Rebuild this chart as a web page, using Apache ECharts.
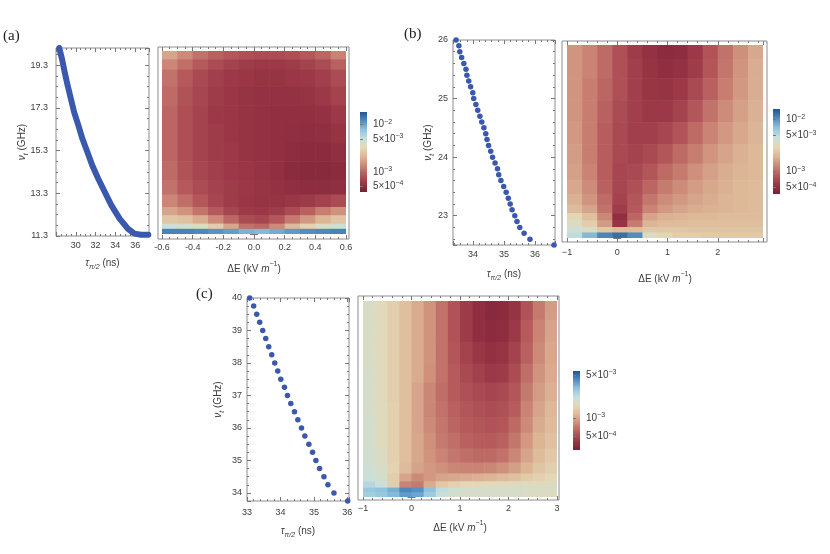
<!DOCTYPE html>
<html>
<head>
<meta charset="utf-8">
<style>
  html, body { margin: 0; padding: 0; background: #fff; }
  #chart { width: 830px; height: 554px; }
</style>
</head>
<body>
<div id="chart"></div>
<script src="https://cdn.jsdelivr.net/npm/echarts@6/dist/echarts.min.js"></script>
<script>
// ---------- scatter data: tau_pi/2 (ns) vs nu_t (GHz) ----------
var tauA = [28.33, 28.6, 28.87, 29.17, 29.5, 29.83, 30.27, 30.67, 31.17, 31.67, 32.27, 32.93, 33.6, 34.43, 35.27, 35.93, 36.6, 37.33];
var nuA  = [20.1, 19.6, 18.98, 18.36, 17.73, 17.1, 16.47, 15.85, 15.23, 14.6, 13.98, 13.36, 12.73, 12.11, 11.64, 11.41, 11.36, 11.36];

var tauB = [33.45, 33.54, 33.57, 33.63, 33.70, 33.77, 33.80, 33.86, 33.92, 33.99, 34.02, 34.09, 34.15, 34.22, 34.28, 34.35, 34.41, 34.45,
            34.50, 34.57, 34.63, 34.71, 34.79, 34.83, 34.90, 34.99, 35.07, 35.14, 35.20, 35.26, 35.35, 35.42, 35.51, 35.65, 35.84, 36.62];
var nuB  = [26.0, 25.9, 25.8, 25.7, 25.6, 25.5, 25.4, 25.3, 25.2, 25.1, 25.0, 24.9, 24.8, 24.7, 24.6, 24.5, 24.4, 24.3,
            24.2, 24.1, 24.0, 23.9, 23.8, 23.7, 23.6, 23.5, 23.4, 23.3, 23.2, 23.1, 23.0, 22.9, 22.8, 22.7, 22.6, 22.5];

var tauC = [33.08, 33.20, 33.29, 33.38, 33.47, 33.56, 33.65, 33.74, 33.83, 33.92, 34.01, 34.12, 34.21,
            34.31, 34.42, 34.52, 34.63, 34.73, 34.85, 34.96, 35.06, 35.17, 35.30, 35.42, 35.60, 36.01];
var nuC  = [40.0, 39.75, 39.5, 39.25, 39.0, 38.75, 38.5, 38.25, 38.0, 37.75, 37.5, 37.25, 37.0,
            36.75, 36.5, 36.25, 36.0, 35.75, 35.5, 35.25, 35.0, 34.75, 34.5, 34.25, 34.0, 33.75];

// ---------- heatmap data: cell edges (Delta E in kV/m, nu_t in GHz), values in units of 1e-4 ----------
// rows are listed from top (highest nu_t) to bottom
var xEdgesA = [-0.6, -0.5, -0.4, -0.3, -0.2, -0.1, 0, 0.1, 0.2, 0.3, 0.4, 0.5, 0.6];
var yEdgesA = [11.3, 11.55, 11.8, 12.2, 12.6, 13.2, 13.9, 14.8, 15.7, 16.6, 17.5, 18.4, 19.2, 19.7, 20.1];
var heatA = [
  [17.8, 14, 11.1, 9.5, 8.5, 7.8, 7.5, 7.5, 7.8, 8.5, 9.9, 13],
  [13.5, 10.7, 8.8, 7.5, 6.7, 6.2, 5.9, 5.9, 6.2, 6.7, 7.5, 9.5],
  [11.1, 8.8, 7.2, 6.4, 5.9, 5.7, 5.5, 5.5, 5.7, 5.9, 6.4, 7.5],
  [10.3, 8.1, 7.0, 6.2, 5.7, 5.5, 5.3, 5.3, 5.3, 5.5, 5.9, 6.7],
  [9.9, 7.8, 6.7, 5.9, 5.7, 5.5, 5.3, 5.1, 5.1, 5.1, 5.3, 5.9],
  [9.9, 7.8, 6.7, 6.2, 5.7, 5.5, 5.3, 5.1, 5.0, 4.9, 5.0, 5.5],
  [9.9, 7.8, 6.7, 6.2, 5.9, 5.5, 5.3, 5.1, 4.8, 4.7, 4.7, 5.0],
  [10.3, 8.1, 7.0, 6.4, 5.9, 5.7, 5.4, 5.1, 4.7, 4.5, 4.5, 4.7],
  [11.1, 8.8, 7.5, 6.7, 6.2, 5.8, 5.6, 5.3, 5.0, 4.8, 4.8, 5.0],
  [13.5, 10.7, 8.5, 7.0, 6.2, 5.7, 5.5, 5.5, 5.7, 6.0, 6.6, 7.5],
  [17.8, 15, 11.5, 8.8, 7.0, 6.0, 5.8, 6.2, 7.5, 9.5, 12.5, 15],
  [26, 24, 19, 14, 10, 7.5, 7.0, 8.5, 12, 16, 21, 25],
  [47, 42, 36, 28, 18, 11, 10, 14, 22, 30, 38, 45],
  [130, 130, 125, 115, 105, 90, 85, 95, 110, 120, 125, 130]
];

var xEdgesB = [-1, -0.7, -0.4, -0.1, 0.2, 0.5, 0.8, 1.1, 1.4, 1.7, 2.0, 2.3, 2.6, 2.9];
var yEdgesB = [22.5, 22.6, 22.7, 22.82, 22.95, 23.1, 23.3, 23.55, 23.85, 24.2, 24.6, 25.0, 25.4, 25.75, 26.0];
var heatB = [
  [14.4, 12.4, 9.9, 7.6, 6.05, 5.2, 4.66, 4.83, 5.8, 7.9, 10.6, 13.8, 17.3],
  [14.4, 12.4, 9.9, 7.6, 6.3, 5.4, 5.0, 5.2, 6.05, 8.2, 11.0, 14.4, 18.0],
  [14.4, 11.9, 9.5, 7.6, 6.3, 5.6, 5.4, 5.8, 7.0, 9.1, 11.9, 14.9, 18.0],
  [14.4, 11.9, 9.1, 7.3, 6.3, 5.8, 5.8, 6.5, 8.2, 10.6, 13.3, 16.1, 18.7],
  [14.9, 11.9, 8.8, 7.0, 6.3, 6.3, 6.8, 7.9, 9.9, 12.4, 14.9, 17.3, 19.4],
  [15.5, 11.9, 8.8, 7.0, 6.5, 7.0, 8.2, 9.9, 11.9, 14.4, 16.7, 18.7, 20.1],
  [16.1, 12.4, 8.8, 6.8, 7.0, 8.2, 9.9, 11.5, 13.8, 16.1, 18.0, 19.4, 20.1],
  [17.3, 13.3, 9.1, 6.8, 7.6, 9.5, 11.5, 13.3, 15.5, 17.3, 18.7, 20.1, 20.9],
  [18.7, 14.4, 9.9, 6.5, 8.2, 11.0, 13.3, 14.9, 16.7, 18.0, 19.4, 20.1, 20.9],
  [20.9, 16.7, 10.6, 6.05, 8.5, 12.4, 14.9, 16.7, 18.0, 18.7, 19.4, 20.1, 20.9],
  [29, 21.7, 12.9, 5.0, 9.5, 16.7, 18.7, 19.4, 20.1, 20.1, 20.9, 20.9, 20.9],
  [35, 26, 15.5, 5.4, 11.5, 19.4, 20.9, 20.9, 21.7, 21.7, 21.7, 21.7, 21.7],
  [40, 35, 24, 21, 21, 24, 24, 24, 23.4, 23.4, 23.4, 23.4, 23.4],
  [48, 75, 110, 130, 105, 35, 29, 26, 26, 25, 24.3, 24.3, 24.3]
];

var xEdgesC = [-1, -0.75, -0.5, -0.25, 0, 0.25, 0.5, 0.75, 1, 1.25, 1.5, 1.75, 2, 2.25, 2.5, 2.75, 3];
var yEdgesC = [33.75, 33.9, 34.05, 34.25, 34.5, 34.85, 35.3, 35.8, 36.3, 36.8, 37.4, 38.0, 38.7, 39.4, 40.0];
var heatC = [
  [17.7, 16.2, 14.0, 12.1, 10.4, 8.7, 6.9, 5.4, 4.4, 3.8, 3.5, 3.6, 4.05, 5.4, 7.3, 9.3],
  [17.7, 16.2, 14.0, 12.1, 10.4, 8.7, 6.9, 5.4, 4.4, 3.8, 3.6, 3.7, 4.3, 5.8, 7.8, 9.8],
  [17.7, 16.2, 14.0, 12.1, 10.4, 8.7, 6.9, 5.6, 4.7, 4.2, 3.9, 4.05, 4.7, 6.1, 8.2, 10.1],
  [18.2, 16.2, 14.0, 12.1, 10.4, 8.5, 6.9, 5.8, 5.0, 4.6, 4.3, 4.4, 5.1, 6.7, 8.7, 10.4],
  [18.2, 16.2, 14.0, 12.1, 9.8, 8.0, 6.7, 5.8, 5.3, 5.0, 4.8, 5.0, 5.6, 7.3, 9.3, 10.7],
  [18.2, 16.7, 14.4, 12.1, 9.8, 8.0, 6.9, 6.1, 5.6, 5.3, 5.1, 5.3, 5.9, 7.8, 9.8, 11.4],
  [18.8, 16.7, 14.4, 12.1, 9.8, 8.2, 7.1, 6.3, 5.8, 5.6, 5.4, 5.6, 6.5, 8.2, 10.4, 11.7],
  [18.8, 16.7, 14.4, 12.1, 10.1, 8.5, 7.3, 6.7, 6.1, 5.9, 5.8, 6.1, 7.1, 9.0, 11.0, 12.4],
  [19.3, 17.2, 14.4, 12.1, 10.1, 8.7, 7.8, 7.1, 6.7, 6.5, 6.5, 6.9, 8.0, 9.8, 11.7, 13.2],
  [19.9, 17.7, 14.8, 11.7, 9.8, 9.0, 8.5, 8.0, 7.8, 7.8, 8.0, 8.5, 9.5, 11.0, 12.8, 14.0],
  [21.1, 18.8, 14.0, 9.8, 8.2, 9.0, 9.8, 10.1, 10.4, 10.7, 11.0, 11.7, 12.4, 13.6, 14.4, 15.3],
  [23.8, 21.1, 14.0, 7.8, 7.3, 10.4, 13.2, 14.4, 15.3, 15.7, 16.2, 16.2, 16.7, 16.7, 16.7, 16.7],
  [28.4, 30.1, 33.9, 42.9, 40.4, 30.1, 22.4, 19.9, 18.8, 18.8, 18.8, 18.8, 18.8, 18.2, 17.7, 17.7],
  [26.7, 28.4, 31.9, 38.1, 35.9, 27.5, 21.1, 18.8, 17.7, 17.7, 17.7, 17.7, 17.7, 17.2, 16.7, 16.7]
];

// colour bar ranges (log10) and tick values
var cbRangeA = [-3.43, -1.73];
var cbRangeB = [-3.43, -1.80];
var cbRangeC = [-3.52, -2.24];
var cbTicksA = [1e-2, 5e-3, 1e-3, 5e-4];
var cbTicksB = [1e-2, 5e-3, 1e-3, 5e-4];
var cbTicksC = [5e-3, 1e-3, 5e-4];

// ---------- styling ----------
var FONT = '"Liberation Sans", Arial, sans-serif';
var TXT = '#3c3c3c';
var FRAME = '#8c8c8c';
var TICK = '#777';
var DOT = '#3a58ad';
var COLORS = ['#7b1f35', '#9a3646', '#b65a5c', '#cc8877', '#ddb797', '#e4d8b6', '#c6e0dc', '#90c4de', '#4f8dc3', '#22558f'];

var rich = {
  i:  {fontFamily: FONT, fontStyle: 'italic', fontSize: 10, color: TXT, lineHeight: 16},
  sb: {fontFamily: FONT, fontStyle: 'italic', fontSize: 7, color: TXT, lineHeight: 16, verticalAlign: 'bottom'},
  sp: {fontFamily: FONT, fontSize: 7, color: TXT, lineHeight: 16, verticalAlign: 'top'}
};
var cbRich = {
  sp: {fontFamily: FONT, fontSize: 7, color: TXT, lineHeight: 12, verticalAlign: 'top'}
};
var nuName = '{i|ν}{sb|t} (GHz)';
var tauName = '{i|τ}{sb|π/2} (ns)';
var eName = 'ΔE (kV {i|m}{sp|−1})';

function fix1(v) { return (Math.abs(v) < 1e-9 ? 0 : v).toFixed(1); }
function minus(v) { return String(Math.round(v * 100) / 100).replace('-', '−'); }
function cbLabel(v) {
  var e = Math.floor(v + 1e-6);
  var m = Math.round(Math.pow(10, v - e));
  return (m === 1 ? '' : m + '×') + '10{sp|−' + (-e) + '}';
}

var option = {
  animation: false,
  backgroundColor: '#fff',
  title: [], grid: [], xAxis: [], yAxis: [], series: [], visualMap: []
};

function addGrid(b, extra) {
  var g = {left: b[0], top: b[1], width: b[2], height: b[3], containLabel: false, outerBoundsMode: 'none', show: false};
  for (var k in extra) g[k] = extra[k];
  option.grid.push(g);
  return option.grid.length - 1;
}

function addAxis(list, o) {
  var a = {
    type: 'value', gridIndex: o.grid, position: o.pos, min: o.min, max: o.max, offset: o.offset || 0,
    axisLine: {show: false},
    axisTick: {show: true, inside: true, length: 4, lineStyle: {color: TICK}},
    minorTick: {show: true, splitNumber: o.minor || 5, length: 2, lineStyle: {color: TICK}},
    splitLine: {show: false},
    axisPointer: {show: false},
    axisLabel: {
      show: !!o.label, margin: o.margin || 5, fontFamily: FONT, fontSize: 9, color: TXT,
      showMinLabel: !!o.showMin, showMaxLabel: !!o.showMax
    }
  };
  if (o.fmt) a.axisLabel.formatter = o.fmt;
  if (o.interval != null) a.interval = o.interval;
  if (o.split != null) a.splitNumber = o.split;
  if (o.name) {
    a.name = o.name;
    a.nameLocation = 'middle';
    a.nameGap = o.gap;
    a.nameMoveOverlap = false;
    a.nameRotate = o.rot || 0;
    a.nameTextStyle = {fontFamily: FONT, fontSize: 10, color: TXT, lineHeight: 16, rich: rich};
  }
  list.push(a);
  return list.length - 1;
}

function merge(a, b) { var r = {}, k; for (k in a) r[k] = a[k]; for (k in b) r[k] = b[k]; return r; }

function buildCells(xe, ye, rows) {
  var out = [], nr = rows.length;
  rows.forEach(function (row, r) {
    var j = nr - 1 - r;
    row.forEach(function (v, c) {
      out.push([xe[c], xe[c + 1], ye[j], ye[j + 1], Math.log10(v * 1e-4)]);
    });
  });
  return out;
}

function renderCell(params, api) {
  var p0 = api.coord([api.value(0), api.value(2)]);
  var p1 = api.coord([api.value(1), api.value(3)]);
  return {
    type: 'rect',
    shape: {x: p0[0], y: p1[1], width: p1[0] - p0[0] + 0.6, height: p0[1] - p1[1] + 0.6},
    style: {fill: api.visual('color')}
  };
}

var panels = [
  {
    title: '(a)', tPos: [3, 29], tau: tauA, nu: nuA, line: true,
    sGrid: [56, 48, 93, 188], hFrame: [158, 47, 191, 192], hData: [162, 51, 184, 183], bar: [360, 112, 7, 80],
    sx: {min: 28, max: 37.4, interval: 2, minor: 4, margin: 5, gap: 19},
    sy: {min: 11.3, max: 20.1, interval: 2, minor: 4, showMin: true, margin: 8, gap: 26, fmt: fix1},
    hx: {min: -0.6, max: 0.6, interval: 0.2, minor: 4, showMin: true, showMax: true, margin: 4, gap: 22, fmt: fix1},
    xe: xEdgesA, ye: yEdgesA, heat: heatA, cb: cbRangeA, cbTicks: cbTicksA
  },
  {
    title: '(b)', tPos: [404, 27], tau: tauB, nu: nuB, line: false,
    sGrid: [453, 40, 102, 205], hFrame: [562, 41, 205, 201], hData: [567, 45, 196, 193], bar: [773, 109, 7, 85],
    sx: {min: 33.35, max: 36.65, split: 3, minor: 5, margin: 5, gap: 21},
    sy: {min: 22.5, max: 26, split: 4, minor: 5, showMax: true, margin: 5, gap: 17},
    hx: {min: -1, max: 2.9, interval: 1, minor: 5, showMin: true, margin: 6, gap: 29, fmt: minus},
    xe: xEdgesB, ye: yEdgesB, heat: heatB, cb: cbRangeB, cbTicks: cbTicksB
  },
  {
    title: '(c)', tPos: [196, 287], tau: tauC, nu: nuC, line: false,
    sGrid: [247, 298, 102, 203], hFrame: [358, 296, 201, 204], hData: [363, 301, 194, 196], bar: [573, 371, 7, 79],
    sx: {min: 33, max: 36.05, interval: 1, minor: 5, showMin: true, margin: 7, gap: 22},
    sy: {min: 33.75, max: 40, split: 6, minor: 4, showMax: true, margin: 5, gap: 21},
    hx: {min: -1, max: 3, interval: 1, minor: 5, showMin: true, showMax: true, margin: 4, gap: 20, fmt: minus},
    xe: xEdgesC, ye: yEdgesC, heat: heatC, cb: cbRangeC, cbTicks: cbTicksC
  }
];

panels.forEach(function (p) {
  option.title.push({
    text: p.title, left: p.tPos[0], top: p.tPos[1], padding: 0,
    textStyle: {fontFamily: '"Liberation Serif", "DejaVu Serif", serif', fontSize: 15, fontWeight: 'normal', color: '#222'}
  });

  // scatter panel
  var sg = addGrid(p.sGrid, {show: true, borderColor: FRAME, borderWidth: 1, backgroundColor: 'transparent'});
  var sxi = addAxis(option.xAxis, merge(p.sx, {grid: sg, pos: 'bottom', label: true, name: tauName}));
  addAxis(option.xAxis, merge(p.sx, {grid: sg, pos: 'top', name: null}));
  var syi = addAxis(option.yAxis, merge(p.sy, {grid: sg, pos: 'left', label: true, name: nuName, rot: 90}));
  addAxis(option.yAxis, merge(p.sy, {grid: sg, pos: 'right', name: null}));

  var pts = p.tau.map(function (t, i) { return [t, p.nu[i]]; });
  if (p.line) {
    option.series.push({
      type: 'line', xAxisIndex: sxi, yAxisIndex: syi, data: pts, showSymbol: false,
      smooth: false, clip: true, silent: true,
      lineStyle: {width: 6, color: DOT, cap: 'round', join: 'round'}
    });
  } else {
    option.series.push({
      type: 'scatter', xAxisIndex: sxi, yAxisIndex: syi, data: pts, symbolSize: 5.5,
      itemStyle: {color: DOT, opacity: 1}, silent: true
    });
  }

  // heat map frame
  var fg = addGrid(p.hFrame, {show: true, borderColor: FRAME, borderWidth: 1, backgroundColor: '#fff'});
  option.xAxis.push({type: 'value', gridIndex: fg, show: false});
  option.yAxis.push({type: 'value', gridIndex: fg, show: false});

  // heat map data area, ticks pushed out to the frame
  var f = p.hFrame, d = p.hData;
  var offB = (f[1] + f[3]) - (d[1] + d[3]), offT = d[1] - f[1];
  var offL = d[0] - f[0], offR = (f[0] + f[2]) - (d[0] + d[2]);
  var hg = addGrid(p.hData, {});
  var hxi = addAxis(option.xAxis, merge(p.hx, {grid: hg, pos: 'bottom', offset: offB, label: true, name: eName}));
  addAxis(option.xAxis, merge(p.hx, {grid: hg, pos: 'top', offset: offT, name: null}));
  var hyi = addAxis(option.yAxis, merge(p.sy, {grid: hg, pos: 'left', offset: offL, label: false, name: null}));
  addAxis(option.yAxis, merge(p.sy, {grid: hg, pos: 'right', offset: offR, name: null}));

  option.series.push({
    type: 'custom', xAxisIndex: hxi, yAxisIndex: hyi, renderItem: renderCell,
    data: buildCells(p.xe, p.ye, p.heat), encode: {x: [0, 1], y: [2, 3]}, clip: true, silent: true
  });
  option.visualMap.push({
    type: 'continuous', show: false, seriesIndex: option.series.length - 1, dimension: 4,
    min: p.cb[0], max: p.cb[1], inRange: {color: COLORS}
  });

  // colour bar
  var stops = COLORS.map(function (c, i) { return {offset: i / (COLORS.length - 1), color: c}; });
  var cg = addGrid(p.bar, {
    show: true, borderWidth: 0,
    backgroundColor: {type: 'linear', x: 0, y: 1, x2: 0, y2: 0, colorStops: stops}
  });
  option.xAxis.push({type: 'value', gridIndex: cg, show: false});
  var logs = p.cbTicks.map(function (v) { return Math.log10(v); });
  option.yAxis.push({
    type: 'value', gridIndex: cg, position: 'right', min: p.cb[0], max: p.cb[1],
    axisLine: {show: false}, splitLine: {show: false}, axisPointer: {show: false},
    axisTick: {show: true, customValues: logs, length: 3, lineStyle: {color: TICK}},
    axisLabel: {
      show: true, customValues: logs, formatter: cbLabel, margin: 6, hideOverlap: false,
      showMinLabel: true, showMaxLabel: true,
      fontFamily: FONT, fontSize: 10, color: TXT, lineHeight: 12, rich: cbRich
    }
  });
});

var chart = echarts.init(document.getElementById('chart'));
chart.setOption(option);
window.addEventListener('resize', function () { chart.resize(); });
</script>
</body>
</html>
